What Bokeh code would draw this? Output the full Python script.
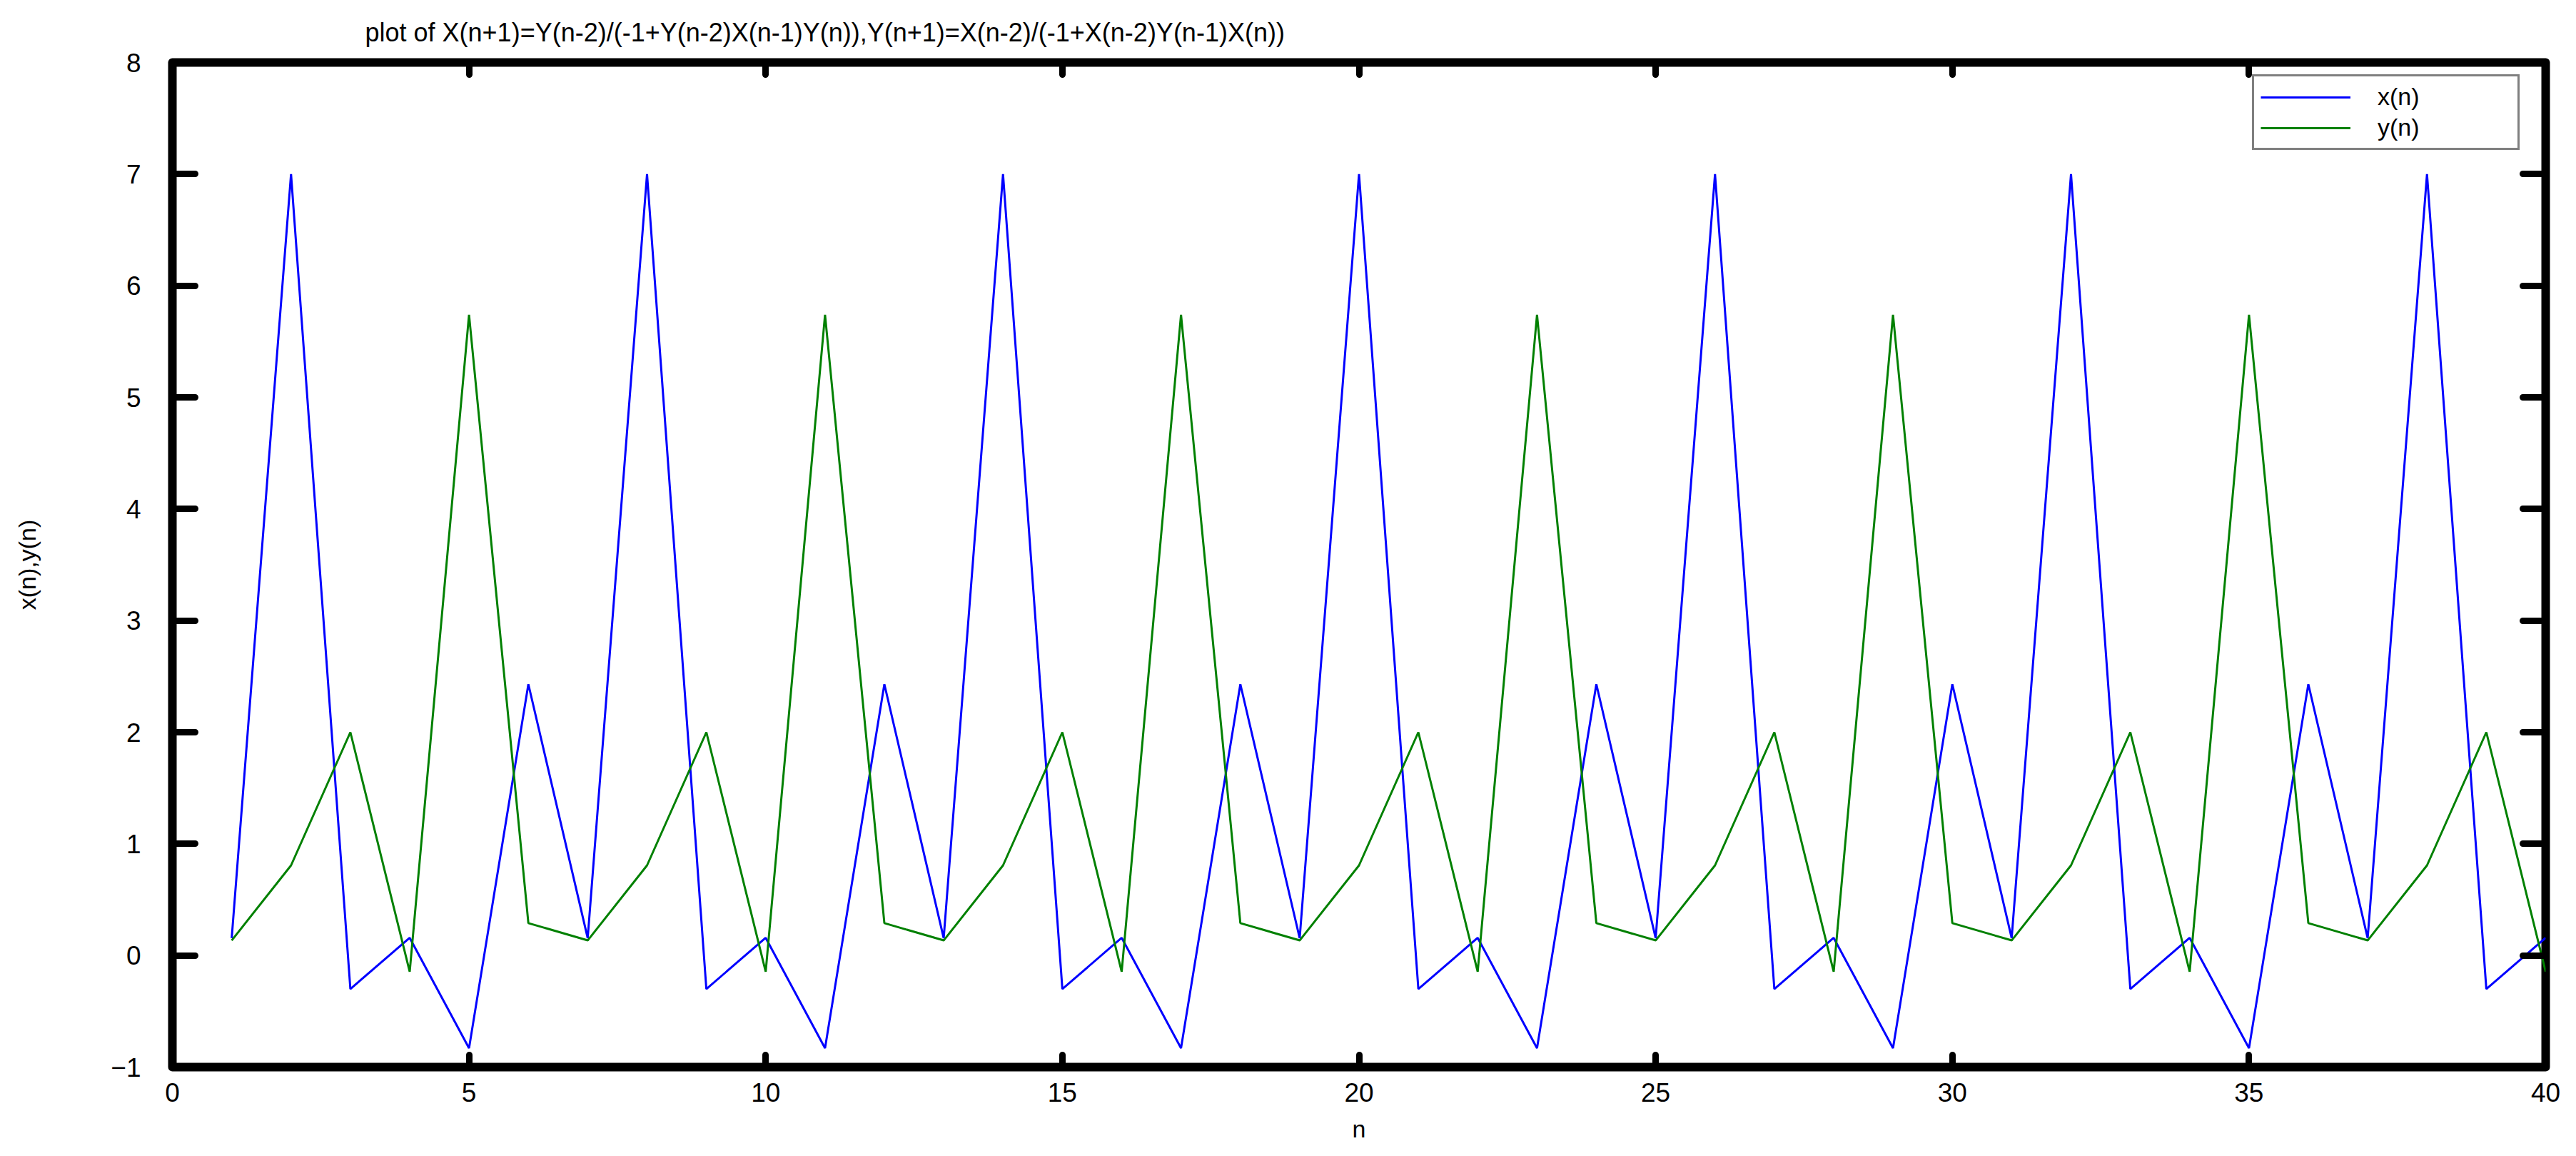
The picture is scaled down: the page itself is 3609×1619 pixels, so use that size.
from bokeh.plotting import figure
from bokeh.models import Range1d, LinearAxis, FixedTicker, Legend, LegendItem, CustomJSTickFormatter, Title
from bokeh.embed import file_html
from bokeh.resources import INLINE

n = list(range(1, 41))
x_n = [0.155, 7.0, -0.30, 0.158, -0.83, 2.43,
       0.155, 7.0, -0.30, 0.158, -0.83, 2.43,
       0.155, 7.0, -0.30, 0.158, -0.83, 2.43,
       0.155, 7.0, -0.30, 0.158, -0.83, 2.43,
       0.155, 7.0, -0.30, 0.158, -0.83, 2.43,
       0.155, 7.0, -0.30, 0.158, -0.83, 2.43,
       0.155, 7.0, -0.30, 0.158]
y_n = [0.135, 0.807, 2.0, -0.145, 5.74, 0.29,
       0.135, 0.807, 2.0, -0.145, 5.74, 0.29,
       0.135, 0.807, 2.0, -0.145, 5.74, 0.29,
       0.135, 0.807, 2.0, -0.145, 5.74, 0.29,
       0.135, 0.807, 2.0, -0.145, 5.74, 0.29,
       0.135, 0.807, 2.0, -0.145, 5.74, 0.29,
       0.135, 0.807, 2.0, -0.145]
x_ticks = [0, 5, 10, 15, 20, 25, 30, 35, 40]
y_ticks = [-1, 0, 1, 2, 3, 4, 5, 6, 7, 8]
title_text = "plot of X(n+1)=Y(n-2)/(-1+Y(n-2)X(n-1)Y(n)),Y(n+1)=X(n-2)/(-1+X(n-2)Y(n-1)X(n))"

FONT = "Liberation Sans"

p = figure(width=3609, height=1619, output_backend="svg", toolbar_location=None,
           x_range=Range1d(0, 40), y_range=Range1d(-1, 8),
           x_axis_location=None, y_axis_location=None,
           min_border_left=241, min_border_right=43, min_border_top=87, min_border_bottom=125)
p.grid.visible = False
p.background_fill_color = "white"
p.border_fill_color = "white"
p.outline_line_color = "black"
p.outline_line_width = 12
p.outline_line_join = "round"

p.title = Title(text=title_text, align="left", offset=270,
                text_font=FONT, text_font_size="36px", text_font_style="normal",
                text_color="black", standoff=44)


def style_axis(ax, tick_len, labels=True):
    ax.axis_line_color = None
    ax.major_tick_in = tick_len
    ax.major_tick_out = 0
    ax.major_tick_line_width = 9
    ax.major_tick_line_cap = "round"
    ax.major_tick_line_color = "black"
    ax.minor_tick_line_color = None
    ax.major_label_text_font = FONT
    ax.major_label_text_font_size = "37px"
    ax.major_label_text_color = "black"
    ax.axis_label_text_font = FONT
    ax.axis_label_text_font_size = "34px"
    ax.axis_label_text_font_style = "normal"
    ax.axis_label_text_color = "black"
    if not labels:
        ax.formatter = CustomJSTickFormatter(code="return ''")
        ax.major_label_standoff = 0


xb = LinearAxis(ticker=FixedTicker(ticks=x_ticks), axis_label="n")
style_axis(xb, 17)
xb.major_label_standoff = 22
xb.major_label_text_align = "right"
xb.axis_label_standoff = 16
p.add_layout(xb, "below")

xt = LinearAxis(ticker=FixedTicker(ticks=x_ticks))
style_axis(xt, 17, labels=False)
p.add_layout(xt, "above")

yl = LinearAxis(ticker=FixedTicker(ticks=y_ticks), axis_label="x(n),y(n)")
style_axis(yl, 32)
yl.major_label_standoff = 44
yl.axis_label_standoff = 95
p.add_layout(yl, "left")

yr = LinearAxis(ticker=FixedTicker(ticks=y_ticks))
style_axis(yr, 32, labels=False)
p.add_layout(yr, "right")

rx = p.line(n, x_n, line_color="#0000ff", line_width=3)
ry = p.line(n, y_n, line_color="#008000", line_width=3)

legend = Legend(items=[LegendItem(label="x(n)", renderers=[rx]),
                       LegendItem(label="y(n)", renderers=[ry])],
                location=(2914, 1284))
legend.border_line_color = "black"
legend.border_line_width = 3
legend.background_fill_color = "white"
legend.background_fill_alpha = 1
legend.label_text_font = FONT
legend.label_text_font_size = "34px"
legend.label_text_color = "black"
legend.glyph_width = 126
legend.glyph_height = 30
legend.label_height = 30
legend.label_standoff = 38
legend.label_width = 187
legend.padding = 9
legend.spacing = 4
legend.margin = 0
p.add_layout(legend, "center")

open("out.html", "w").write(file_html(p, INLINE))
